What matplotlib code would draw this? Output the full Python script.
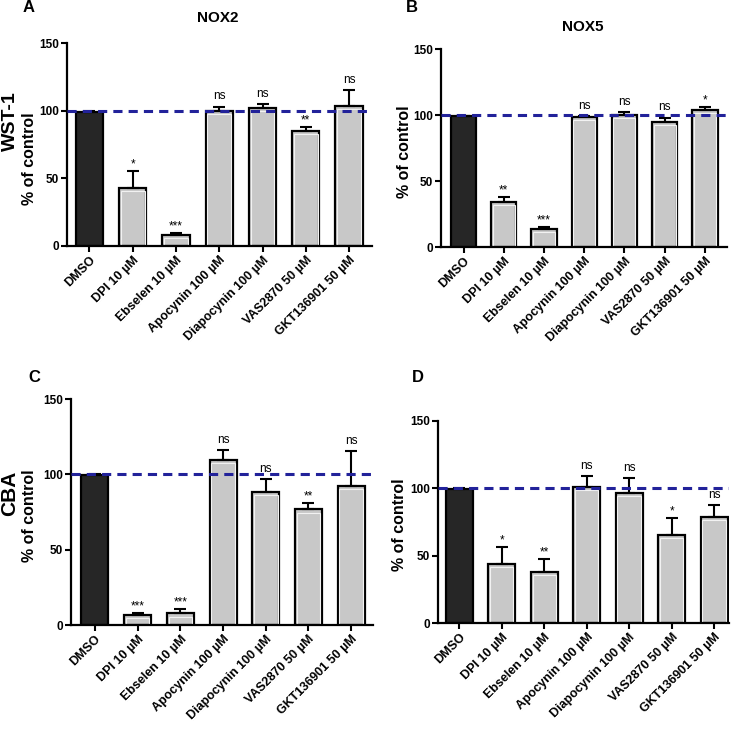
import numpy as np
import matplotlib
matplotlib.use('Agg')
import matplotlib.pyplot as plt

plt.rcParams['font.family'] = ['Liberation Sans', 'DejaVu Sans']

treatments = ['DMSO', 'DPI 10 µM', 'Ebselen 10 µM', 'Apocynin 100 µM',
              'Diapocynin 100 µM', 'VAS2870 50 µM', 'GKT136901 50 µM']

# mean % of control and upper SEM
nox2_wst_mean = [99, 42.5, 8.3, 100, 101.8, 85.2, 103.5]
nox2_wst_err = [0.5, 13, 1.1, 3, 3.2, 3, 11.5]
nox2_wst_sig = ['', '*', '***', 'ns', 'ns', '**', 'ns']

nox5_wst_mean = [99, 33.8, 13.6, 98.5, 100, 94.7, 104]
nox5_wst_err = [0.5, 4.1, 1.2, 0.8, 2.5, 3.3, 1.8]
nox5_wst_sig = ['', '**', '***', 'ns', 'ns', 'ns', '*']

nox2_cba_mean = [99.5, 6.8, 7.7, 109.7, 88.5, 76.7, 92.4]
nox2_cba_err = [0.5, 1.4, 3.1, 6.2, 8.1, 4.0, 23.3]
nox2_cba_sig = ['', '***', '***', 'ns', 'ns', '**', 'ns']

nox5_cba_mean = [99.5, 43.7, 37.7, 100.7, 96.7, 65.6, 78.7]
nox5_cba_err = [0.5, 12.6, 9.7, 8.3, 10.9, 12.3, 9.1]
nox5_cba_sig = ['', '*', '**', 'ns', 'ns', '*', 'ns']

W, H = 740, 731
fig = plt.figure(figsize=(W / 100, H / 100), dpi=100)


def px_axes(left, right, top, bottom):
    return fig.add_axes([left / W, 1 - bottom / H, (right - left) / W, (bottom - top) / H])


def draw_panel(ax, means, errs, sig, xlim):
    x = np.arange(len(treatments))
    colors = ['#262626'] + ['#c8c8c8'] * (len(treatments) - 1)
    ax.bar(x, means, width=0.63, color=colors, edgecolor='black', linewidth=1.6, zorder=2)
    # thin light rim inside the grey bars, as in GraphPad output
    ax.bar(x[1:], np.array(means[1:]) - 2.2, width=0.55, color='none',
           edgecolor='#f2f2f2', linewidth=0.8, zorder=2.5)
    ax.errorbar(x, means, yerr=[np.zeros(len(x)), errs], fmt='none', ecolor='black',
                elinewidth=1.5, capsize=4.5, capthick=1.5, zorder=3)
    ax.axhline(100, color='#22229a', lw=2.2, dashes=(3, 2), zorder=4)
    for xi, m, e, s in zip(x, means, errs, sig):
        if s:
            off = 3 if s == 'ns' else 0.5
            ax.annotate(s, (xi, m + e), xytext=(0, off), textcoords='offset points',
                        ha='center', va='bottom', fontsize=8.5)
    ax.set_xlim(*xlim)
    ax.set_ylim(0, 150)
    ax.set_yticks([0, 50, 100, 150])
    ax.set_xticks(x)
    ax.set_xticklabels(treatments, rotation=45, ha='right', rotation_mode='anchor',
                       fontsize=9, fontweight='bold')
    for lab in ax.get_yticklabels():
        lab.set_fontweight('bold')
        lab.set_fontsize(8.5)
    ax.spines['top'].set_visible(False)
    ax.spines['right'].set_visible(False)
    ax.spines['left'].set_linewidth(1.6)
    ax.spines['bottom'].set_linewidth(1.6)
    ax.tick_params(direction='out', length=4, width=1.5, pad=2)


axA = px_axes(67, 372, 43, 246)
draw_panel(axA, nox2_wst_mean, nox2_wst_err, nox2_wst_sig, (-0.52, 6.53))
axB = px_axes(441, 727, 49, 247)
draw_panel(axB, nox5_wst_mean, nox5_wst_err, nox5_wst_sig, (-0.56, 6.55))
axC = px_axes(71, 373, 399, 625)
draw_panel(axC, nox2_cba_mean, nox2_cba_err, nox2_cba_sig, (-0.56, 6.51))
axD = px_axes(438, 729, 421, 623)
draw_panel(axD, nox5_cba_mean, nox5_cba_err, nox5_cba_sig, (-0.5, 6.35))


def ftext(x, y, s, **kw):
    fig.text(x / W, 1 - y / H, s, ha='center', va='center', fontweight='bold', **kw)


ftext(29, 8, 'A', fontsize=12)
ftext(412, 8, 'B', fontsize=12)
ftext(34, 378, 'C', fontsize=12)
ftext(418, 378, 'D', fontsize=12)
ftext(218, 18, 'NOX2', fontsize=11)
ftext(583, 27, 'NOX5', fontsize=11)
ftext(10, 121, 'WST-1', fontsize=14, rotation=90)
ftext(10, 493, 'CBA', fontsize=15, rotation=90)
ftext(30, 159, '% of control', fontsize=11.5, rotation=90)
ftext(405, 152, '% of control', fontsize=11.5, rotation=90)
ftext(30, 516, '% of control', fontsize=11.5, rotation=90)
ftext(400, 525, '% of control', fontsize=11.5, rotation=90)

fig.savefig('out.png', dpi=100)
